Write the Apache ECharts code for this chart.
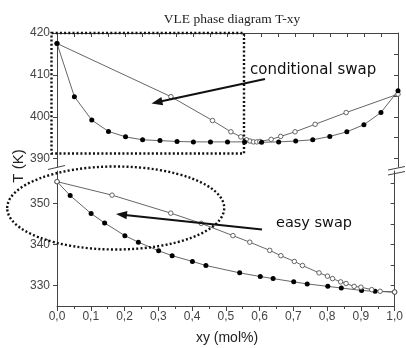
<!DOCTYPE html>
<html><head><meta charset="utf-8">
<script src="https://cdn.jsdelivr.net/npm/echarts@6/dist/echarts.min.js"></script>
<style>html,body{margin:0;padding:0;background:#fff}#c{width:406px;height:348px}</style>
</head><body><div id="c"></div>
<script>
// ---- data ----
const xLiqTop = [0,0.051,0.102,0.151,0.201,0.251,0.302,0.352,0.40,0.45,0.50,0.55,0.60,0.65,0.70,0.75,0.80,0.85,0.90,0.95,1.0];
const TLiqTop = [417.5,404.8,399.2,396.5,395.2,394.5,394.3,394.1,394.0,394.0,394.0,394.0,393.9,394.0,394.2,394.5,395.3,396.4,398.1,401.0,406.2];
const xVapTop = [0,0.334,0.456,0.510,0.539,0.556,0.566,0.576,0.586,0.595,0.628,0.656,0.698,0.757,0.848,1.0];
const TVapTop = [417.5,404.8,399.1,396.4,395.2,394.5,394.2,394.0,394.0,394.1,394.6,395.3,396.4,398.2,401.0,405.4];
const xLiqBot = [0,0.039,0.101,0.141,0.201,0.241,0.301,0.341,0.401,0.441,0.541,0.602,0.640,0.701,0.741,0.802,0.842,0.902,0.942,1.0];
const TLiqBot = [355.4,352.0,347.6,345.3,342.2,340.6,338.5,337.3,335.9,334.9,333.1,332.2,331.7,330.9,330.4,329.8,329.4,328.8,328.6,328.4];
const xVapBot = [0,0.163,0.337,0.427,0.521,0.571,0.630,0.663,0.703,0.727,0.776,0.801,0.816,0.840,0.856,0.880,0.900,0.932,0.957,1.0];
const TVapBot = [355.4,352.1,347.7,345.2,342.2,340.6,338.6,337.3,335.9,334.9,333.1,332.3,331.7,330.9,330.5,329.8,329.6,329.0,328.6,328.4];
const topLabels = [390,400,410,420];
const topTicksRight = [390,395,400,405,410,415,420];
const botLabels = [330,340,350];
const botTicksRight = [325,330,335,340,345,350,355];

const pairs = (xs, ys) => xs.map((x,i)=>[x, ys[i]]);
const AX = '#444';
const LBL = '#444';
const lineS = {color:'#555', width:0.9};

function arrow(x1,y1,x2,y2){
  const dx=x2-x1, dy=y2-y1, L=Math.hypot(dx,dy), ux=dx/L, uy=dy/L;
  const hl=11, hw=4.2;
  const bx=x2-ux*hl, by=y2-uy*hl;
  return [
    {type:'line', shape:{x1:x1,y1:y1,x2:bx+ux*2,y2:by+uy*2}, style:{stroke:'#111', lineWidth:2}},
    {type:'polygon', shape:{points:[[x2,y2],[bx-uy*hw,by+ux*hw],[bx+uy*hw,by-ux*hw]]}, style:{fill:'#111'}}
  ];
}
const dotted = {stroke:'#111', lineWidth:2.4, lineDash:[2,2.2], fill:null};

const chart = echarts.init(document.getElementById('c'));
chart.setOption({
  animation:false,
  title:{text:'VLE phase diagram T-xy', left:227, top:7, textAlign:'center',
    textStyle:{fontFamily:'Liberation Serif', fontWeight:'normal', fontSize:13.5, color:'#222'}},
  grid:[
    {left:57, right:8, top:33, height:134},
    {left:57, right:8, top:171, height:135}
  ],
  xAxis:[
    {type:'value', gridIndex:0, position:'top', min:0, max:1, interval:0.05,
      axisLine:{show:true, lineStyle:{color:AX}}, axisTick:{show:true, inside:true, length:4, lineStyle:{color:AX}},
      axisLabel:{show:false}, splitLine:{show:false}},
    {type:'value', gridIndex:1, position:'bottom', min:0, max:1, interval:0.1,
      axisLine:{show:true, lineStyle:{color:AX}}, axisTick:{show:true, inside:false, length:5, lineStyle:{color:AX}},
      minorTick:{show:true, splitNumber:2, length:3, lineStyle:{color:AX}},
      axisLabel:{color:LBL, fontFamily:'Liberation Sans', fontSize:12, margin:5,
        formatter:v=>v.toFixed(1).replace('.',',')},
      splitLine:{show:false}}
  ],
  yAxis:[
    {type:'value', gridIndex:0, position:'left', min:388, max:420,
      axisLine:{show:true, lineStyle:{color:AX}},
      axisTick:{show:true, inside:false, length:4, customValues:topLabels, lineStyle:{color:AX}},
      axisLabel:{color:LBL, fontFamily:'Liberation Sans', fontSize:12, margin:7, customValues:topLabels},
      splitLine:{show:false}},
    {type:'value', gridIndex:0, position:'right', min:388, max:420,
      axisLine:{show:true, lineStyle:{color:AX}},
      axisTick:{show:true, inside:true, length:4, customValues:topTicksRight, lineStyle:{color:AX}},
      axisLabel:{show:false}, splitLine:{show:false}},
    {type:'value', gridIndex:1, position:'left', min:325, max:358,
      axisLine:{show:true, lineStyle:{color:AX}},
      axisTick:{show:true, inside:false, length:4, customValues:botLabels, lineStyle:{color:AX}},
      axisLabel:{color:LBL, fontFamily:'Liberation Sans', fontSize:12, margin:7, customValues:botLabels},
      splitLine:{show:false}},
    {type:'value', gridIndex:1, position:'right', min:325, max:358,
      axisLine:{show:true, lineStyle:{color:AX}},
      axisTick:{show:true, inside:true, length:4, customValues:botTicksRight, lineStyle:{color:AX}},
      axisLabel:{show:false}, splitLine:{show:false}}
  ],
  series:[
    {type:'line', xAxisIndex:0, yAxisIndex:0, data:pairs(xVapTop,TVapTop), clip:false,
      symbol:'circle', symbolSize:4.5, lineStyle:lineS,
      itemStyle:{color:'#fff', borderColor:'#555', borderWidth:0.9}},
    {type:'line', xAxisIndex:0, yAxisIndex:0, data:pairs(xLiqTop,TLiqTop), clip:false,
      symbol:'circle', symbolSize:5, lineStyle:lineS,
      itemStyle:{color:'#000', borderColor:'#000', borderWidth:0}},
    {type:'line', xAxisIndex:1, yAxisIndex:2, data:pairs(xLiqBot,TLiqBot), clip:false,
      symbol:'circle', symbolSize:5, lineStyle:lineS,
      itemStyle:{color:'#000', borderColor:'#000', borderWidth:0}},
    {type:'line', xAxisIndex:1, yAxisIndex:2, data:pairs(xVapBot,TVapBot), clip:false,
      symbol:'circle', symbolSize:4.5, lineStyle:lineS,
      itemStyle:{color:'#fff', borderColor:'#555', borderWidth:0.9}}
  ],
  graphic:[
    {type:'text', x:19, y:166, rotation:Math.PI/2, style:{text:'T (K)', font:'15px "Liberation Sans"', fill:'#222', align:'center', verticalAlign:'middle'}},
    {type:'text', x:227, y:338, style:{text:'xy (mol%)', font:'14px "Liberation Sans"', fill:'#222', align:'center', verticalAlign:'middle'}},
    {type:'line', shape:{x1:48,y1:169.5,x2:65,y2:165.5}, style:{stroke:AX, lineWidth:1}},
    {type:'line', shape:{x1:388,y1:170,x2:405,y2:166.5}, style:{stroke:AX, lineWidth:1}},
    {type:'line', shape:{x1:388,y1:175,x2:405,y2:171.5}, style:{stroke:AX, lineWidth:1}},
    {type:'rect', shape:{x:51.5, y:33, width:192.5, height:120.5}, style:dotted, z:100},
    {type:'ellipse', shape:{cx:115.7, cy:208, rx:108.5, ry:41.5}, style:dotted, z:100},
    ...arrow(265,79,151.5,103.5).map(g=>Object.assign(g,{z:100})),
    ...arrow(262,229.5,116,214).map(g=>Object.assign(g,{z:100})),
    {type:'text', x:250, y:70, z:100, style:{text:'conditional swap', font:'15px "DejaVu Sans"', fill:'#111', verticalAlign:'middle'}},
    {type:'text', x:276, y:223.5, z:100, style:{text:'easy swap', font:'14.5px "DejaVu Sans"', fill:'#111', verticalAlign:'middle'}}
  ]
});
</script></body></html>
